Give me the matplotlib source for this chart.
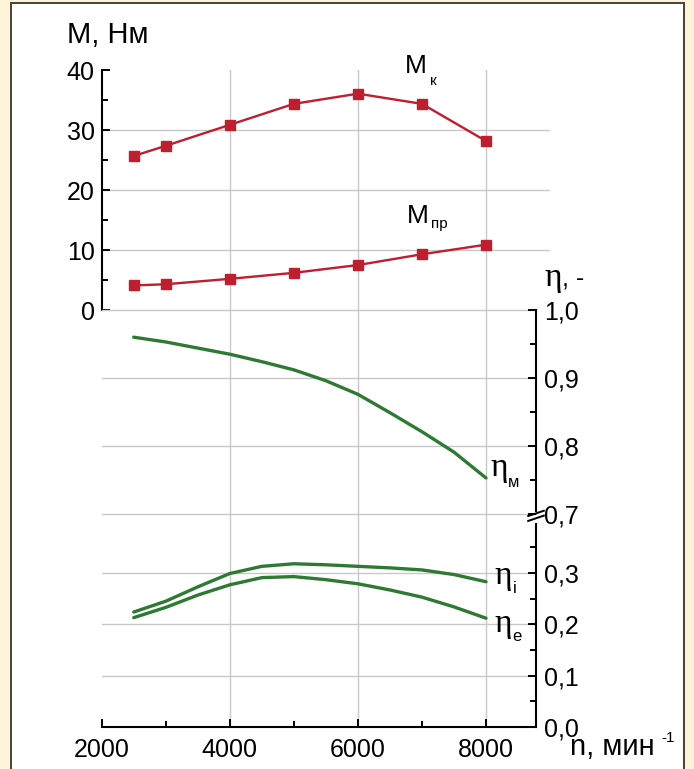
import matplotlib
matplotlib.use('Agg')
import matplotlib.pyplot as plt
from matplotlib.ticker import FixedLocator, FixedFormatter
from matplotlib.patches import Rectangle

plt.rcParams['font.family'] = ['Liberation Sans', 'DejaVu Sans']

# torque, N*m
n_m = [2500, 3000, 4000, 5000, 6000, 7000, 8000]
m_k = [25.7, 27.4, 30.9, 34.4, 36.1, 34.4, 28.2]
m_pr = [4.1, 4.3, 5.2, 6.2, 7.5, 9.3, 10.9]

# efficiencies
n_eta = [2500, 3000, 3500, 4000, 4500, 5000, 5500, 6000, 6500, 7000, 7500, 8000]
eta_m = [0.960, 0.953, 0.944, 0.935, 0.924, 0.912, 0.896, 0.876, 0.849, 0.821, 0.791, 0.753]
eta_i = [0.224, 0.245, 0.273, 0.299, 0.313, 0.318, 0.316, 0.313, 0.310, 0.306, 0.297, 0.283]
eta_e = [0.213, 0.233, 0.257, 0.277, 0.291, 0.293, 0.287, 0.279, 0.267, 0.253, 0.234, 0.212]

n_ticks = [2000, 4000, 6000, 8000]
n_minor = [3000, 5000, 7000]
n_grid = [4000, 6000, 8000]
m_ticks = [0, 10, 20, 30, 40]
m_minor = [5, 15, 25, 35]
m_grid = [10, 20, 30]
hi_ticks = [0.7, 0.8, 0.9, 1.0]
hi_labels = ['0,7', '0,8', '0,9', '1,0']
hi_minor = [0.75, 0.85, 0.95]
lo_ticks = [0.0, 0.1, 0.2, 0.3]
lo_labels = ['0,0', '0,1', '0,2', '0,3']
lo_minor = [0.05, 0.15, 0.25, 0.35]

W, H = 694, 769
RED = '#BE1E2D'
GREEN = '#2F7A33'
GRID = '#C8C8C8'
TICK_FS = 18


def rect(left, top, right, bottom):
    return [left / W, 1 - bottom / H, (right - left) / W, (bottom - top) / H]


def ftext(x, y, s, **kw):
    fig.text(x / W, 1 - y / H, s, va='baseline', **kw)


X0 = 101.7
PX = 0.06405   # pixels per rpm
X_EDGE = 536
n_right = 2000 + (X_EDGE - X0) / PX

fig = plt.figure(figsize=(W / 100, H / 100), dpi=100)
fig.patch.set_facecolor('#FDF4D9')
fig.add_artist(Rectangle((11 / W, -0.01), (684 - 11) / W, 1 - 3 / H + 0.01,
                         transform=fig.transFigure, facecolor='white',
                         edgecolor='#4A4132', lw=1.4, zorder=-10))

ax_m = fig.add_axes(rect(X0, 70.3, X0 + 7000 * PX, 310))
ax_hi = fig.add_axes(rect(X0, 310, X_EDGE, 514))
ax_lo = fig.add_axes(rect(X0, 514, X_EDGE, 727))

for ax in (ax_m, ax_hi, ax_lo):
    ax.patch.set_visible(False)
    for s in ax.spines.values():
        s.set_visible(False)
        s.set_linewidth(1.5)
    ax.tick_params(which='both', direction='in', width=1.4, labelsize=TICK_FS, color='black')
    ax.tick_params(which='major', length=6)
    ax.tick_params(which='minor', length=4)
    for n in n_grid:
        ax.axvline(n, color=GRID, lw=1.0, zorder=0)

# torque panel
ax_m.set_xlim(2000, 9000)
ax_m.set_ylim(0, 40)
ax_m.spines['left'].set_visible(True)
ax_m.xaxis.set_visible(False)
ax_m.yaxis.set_major_locator(FixedLocator(m_ticks))
ax_m.yaxis.set_minor_locator(FixedLocator(m_minor))
ax_m.tick_params(axis='y', pad=5)
for v in m_grid:
    ax_m.axhline(v, color=GRID, lw=1.0, zorder=0)
ax_m.plot(n_m, m_k, color=RED, lw=1.7, marker='s', ms=6.8, zorder=3)
ax_m.plot(n_m, m_pr, color=RED, lw=1.7, marker='s', ms=6.8, zorder=3)

# upper efficiency panel
ax_hi.set_xlim(2000, n_right)
ax_hi.set_ylim(0.7, 1.0)
ax_hi.spines['right'].set_visible(True)
ax_hi.spines['right'].set_bounds(0.705, 1.0)
ax_hi.xaxis.set_visible(False)
ax_hi.yaxis.tick_right()
ax_hi.yaxis.set_major_locator(FixedLocator(hi_ticks))
ax_hi.yaxis.set_major_formatter(FixedFormatter(hi_labels))
ax_hi.yaxis.set_minor_locator(FixedLocator(hi_minor))
ax_hi.tick_params(axis='y', pad=6)
for v in hi_ticks:
    ax_hi.axhline(v, color=GRID, lw=1.0, zorder=0, clip_on=False)
ax_hi.plot(n_eta, eta_m, color=GREEN, lw=2.4, solid_capstyle='round', zorder=3)

# break marks on the right axis
kw = dict(transform=ax_hi.transAxes, color='black', lw=1.4, clip_on=False)
for dy in (0.0, -0.024):
    ax_hi.plot([0.982, 1.018], [-0.01 + dy, 0.016 + dy], **kw)

# lower efficiency panel
ax_lo.set_xlim(2000, n_right)
ax_lo.set_ylim(0, (727 - 514) / 513.3)
ax_lo.spines['right'].set_visible(True)
ax_lo.spines['right'].set_bounds(0, 0.395)
ax_lo.spines['bottom'].set_visible(True)
ax_lo.yaxis.tick_right()
ax_lo.yaxis.set_major_locator(FixedLocator(lo_ticks))
ax_lo.yaxis.set_major_formatter(FixedFormatter(lo_labels))
ax_lo.yaxis.set_minor_locator(FixedLocator(lo_minor))
ax_lo.xaxis.set_major_locator(FixedLocator(n_ticks))
ax_lo.xaxis.set_minor_locator(FixedLocator(n_minor))
ax_lo.tick_params(axis='y', pad=6)
ax_lo.tick_params(axis='x', pad=8)
for v in lo_ticks[1:]:
    ax_lo.axhline(v, color=GRID, lw=1.0, zorder=0)
ax_lo.plot(n_eta, eta_i, color=GREEN, lw=2.4, solid_capstyle='round', zorder=3)
ax_lo.plot(n_eta, eta_e, color=GREEN, lw=2.4, solid_capstyle='round', zorder=3)

# labels
ETA_FONT = 'Liberation Serif'
ftext(67, 43, 'M, Нм', fontsize=21)
ftext(405, 73, 'M', fontsize=19)
ftext(430, 85, 'к', fontsize=11)
ftext(407, 223, 'M', fontsize=19)
ftext(431, 228, 'пр', fontsize=11)
ftext(544, 286, 'η', fontsize=24, family=ETA_FONT)
ftext(562, 286, ', -', fontsize=18)
ftext(490, 476, 'η', fontsize=24, family=ETA_FONT)
ftext(508, 487, 'м', fontsize=12)
ftext(494, 584, 'η', fontsize=24, family=ETA_FONT)
ftext(513, 593, 'i', fontsize=12)
ftext(494, 632, 'η', fontsize=24, family=ETA_FONT)
ftext(512, 641, 'e', fontsize=12)
ftext(570, 755, 'n, мин', fontsize=21)
ftext(661, 742, '-1', fontsize=11)

fig.savefig('out.png', dpi=100)
